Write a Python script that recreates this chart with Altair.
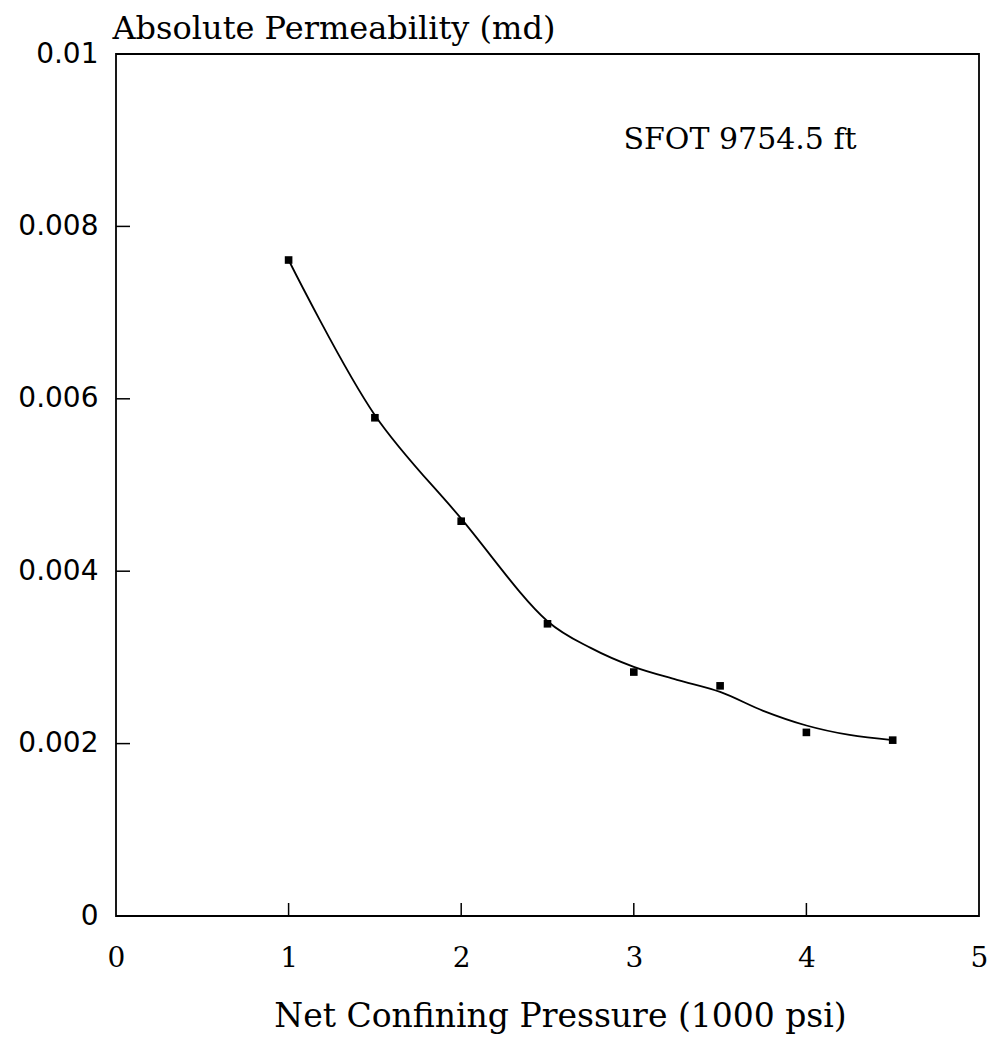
import altair as alt
import pandas as pd

# measured points
pressure = [1.0, 1.5, 2.0, 2.5, 3.0, 3.5, 4.0, 4.5]
permeability = [0.00761, 0.00578, 0.00458, 0.00339, 0.00283, 0.00267, 0.00213, 0.00204]

# hand-drawn smooth curve
curve_x = [1.0, 1.5, 2.0, 2.5, 2.75, 3.0, 3.25, 3.5, 3.75, 4.0, 4.25, 4.5]
curve_y = [0.00761, 0.00581, 0.00461, 0.00342, 0.00311, 0.00289, 0.00274, 0.00260, 0.00238, 0.00221, 0.00210, 0.00204]

x_tick_values = [0, 1, 2, 3, 4, 5]
y_tick_values = [0, 0.002, 0.004, 0.006, 0.008, 0.01]
x_inner_ticks = [1, 2, 3, 4]
y_inner_ticks = [0.002, 0.004, 0.006, 0.008]

label_text = ["SFOT 9754.5 ft"]
label_x = [2.94]
label_y = [0.0089]

W, H = 863, 862

pts = pd.DataFrame({"p": pressure, "k": permeability})
crv = pd.DataFrame({"p": curve_x, "k": curve_y})
xt = pd.DataFrame({"v": x_inner_ticks})
yt = pd.DataFrame({"v": y_inner_ticks})
lab = pd.DataFrame({"t": label_text, "p": label_x, "k": label_y})

xscale = alt.Scale(domain=[0, 5], nice=False, zero=False)
yscale = alt.Scale(domain=[0, 0.01], nice=False, zero=False)

xaxis = alt.Axis(
    values=x_tick_values, format="d",
    title="Net Confining Pressure (1000 psi)",
    titleX=444, titleY=110,
)
yaxis = alt.Axis(
    values=y_tick_values, format=".3~f",
    title="Absolute Permeability (md)",
    titleX=-4, titleY=-16,
)

line = alt.Chart(crv).mark_line(color="black", strokeWidth=1.8, interpolate="catmull-rom").encode(
    x=alt.X("p:Q", scale=xscale, axis=xaxis),
    y=alt.Y("k:Q", scale=yscale, axis=yaxis),
)
points = alt.Chart(pts).mark_square(color="black", size=58, opacity=1).encode(
    x=alt.X("p:Q", scale=xscale),
    y=alt.Y("k:Q", scale=yscale),
)
xticks = alt.Chart(xt).mark_rule(color="black", strokeWidth=1.5).encode(
    x=alt.X("v:Q", scale=xscale),
    y=alt.value(H - 13), y2=alt.value(H),
)
yticks = alt.Chart(yt).mark_rule(color="black", strokeWidth=1.5).encode(
    y=alt.Y("v:Q", scale=yscale),
    x=alt.value(0), x2=alt.value(14),
)
annot = alt.Chart(lab).mark_text(
    font="DejaVu Serif", fontSize=30, align="left", baseline="alphabetic", color="black"
).encode(
    x=alt.X("p:Q", scale=xscale),
    y=alt.Y("k:Q", scale=yscale),
    text="t:N",
)

chart = (
    alt.layer(line, points, xticks, yticks, annot)
    .properties(
        width=W, height=H,
        padding={"left": 116, "top": 54, "right": 14, "bottom": 124},
        autosize=alt.AutoSizeParams(type="none"),
        background="white",
    )
    .configure_view(stroke="black", strokeWidth=1.8)
    .configure_axisX(
        ticks=False, domain=False, grid=False,
        labelFont="DejaVu Serif", labelFontSize=28, labelColor="black",
        labelPadding=28, labelFlush=False, labelBaseline="top",
        titleFont="DejaVu Serif", titleFontSize=33, titleFontWeight="normal",
        titleColor="black", titleBaseline="alphabetic", titleAlign="center",
    )
    .configure_axisY(
        ticks=False, domain=False, grid=False,
        labelFont="DejaVu Sans", labelFontSize=28, labelColor="black",
        labelPadding=18, labelFlush=False,
        titleFont="DejaVu Serif", titleFontSize=32, titleFontWeight="normal",
        titleColor="black", titleAngle=0, titleAlign="left",
        titleBaseline="alphabetic",
    )
)

chart.save("out.html", embed_options={"renderer": "svg", "actions": False})
